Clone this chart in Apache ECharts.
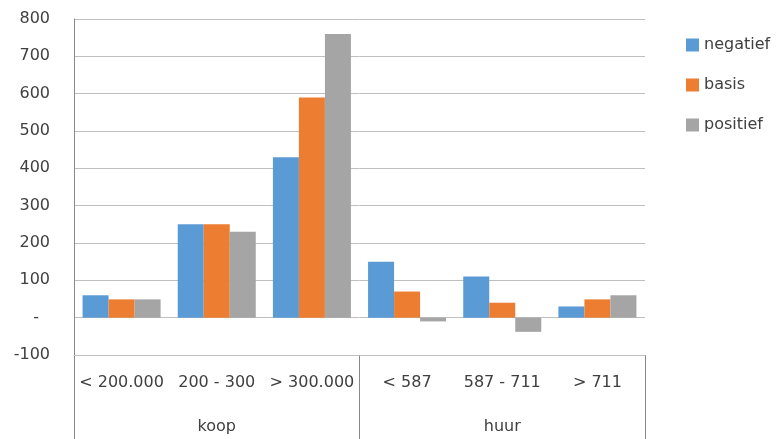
<!DOCTYPE html>
<html>
<head>
<meta charset="utf-8">
<script src="https://cdn.jsdelivr.net/npm/echarts@6/dist/echarts.min.js"></script>
<style>html,body{margin:0;padding:0;background:#fff;}#c{width:779px;height:439px;}</style>
</head>
<body>
<div id="c"></div>
<script>
const categories = ['< 200.000', '200 - 300', '> 300.000', '< 587', '587 - 711', '> 711'];
const groups = ['koop', 'huur'];
const negatief = [60, 250, 430, 150, 110, 30];
const basis = [49, 250, 590, 70, 40, 49];
const positief = [49, 230, 760, -10, -38, 60];
const yTicks = { min: -100, max: 800, interval: 100 };

const FONT = 'DejaVu Sans';
const TXT = '#404040';
const chart = echarts.init(document.getElementById('c'));
chart.setOption({
  animation: false,
  textStyle: { fontFamily: FONT },
  legend: {
    orient: 'vertical', left: 686, top: 37, padding: 0,
    itemWidth: 13, itemHeight: 13, itemGap: 24,
    icon: 'rect',
    textStyle: { fontFamily: FONT, fontSize: 16, color: TXT },
    data: ['negatief', 'basis', 'positief']
  },
  grid: [
    { left: 74, right: 134, top: 19, bottom: 84, containLabel: false },
    { left: 74, right: 134, top: 355, bottom: -4, containLabel: false }
  ],
  xAxis: [
    {
      type: 'category', data: categories, position: 'bottom', gridIndex: 0,
      axisLine: { show: true, onZero: false, lineStyle: { color: '#BFBFBF', width: 1 } },
      axisTick: { show: false },
      axisLabel: { margin: 20, fontSize: 16, color: TXT, fontFamily: FONT, interval: 0 }
    },
    {
      type: 'category', data: groups, position: 'bottom', gridIndex: 1,
      axisLine: { show: false },
      axisTick: { show: false },
      splitLine: { show: true, interval: 0, lineStyle: { color: '#898989', width: 1 } },
      axisLabel: { inside: true, margin: 4, fontSize: 16, color: TXT, fontFamily: FONT, interval: 0 }
    }
  ],
  yAxis: [
    {
      type: 'value', min: yTicks.min, max: yTicks.max, interval: yTicks.interval, gridIndex: 0,
      axisLine: { show: true, lineStyle: { color: '#898989', width: 1 } },
      axisTick: { show: false },
      splitLine: { lineStyle: { color: '#BFBFBF', width: 1 } },
      axisLabel: {
        margin: 24, fontSize: 16, color: TXT, fontFamily: FONT,
        formatter: v => v === 0 ? '{d|-}' : String(v),
        rich: { d: { fontSize: 16, color: TXT, fontFamily: FONT, padding: [0, 11, 0, 0] } }
      }
    },
    {
      type: 'value', gridIndex: 1, min: 0, max: 1,
      axisLine: { show: false }, axisTick: { show: false },
      axisLabel: { show: false }, splitLine: { show: false }
    }
  ],
  series: [
    { name: 'negatief', type: 'bar', data: negatief, itemStyle: { color: '#5B9BD5' }, barGap: '0%', barCategoryGap: '18%' },
    { name: 'basis', type: 'bar', data: basis, itemStyle: { color: '#ED7D31' }, barGap: '0%', barCategoryGap: '18%' },
    { name: 'positief', type: 'bar', data: positief, itemStyle: { color: '#A5A5A5' }, barGap: '0%', barCategoryGap: '18%' }
  ]
});
</script>
</body>
</html>
